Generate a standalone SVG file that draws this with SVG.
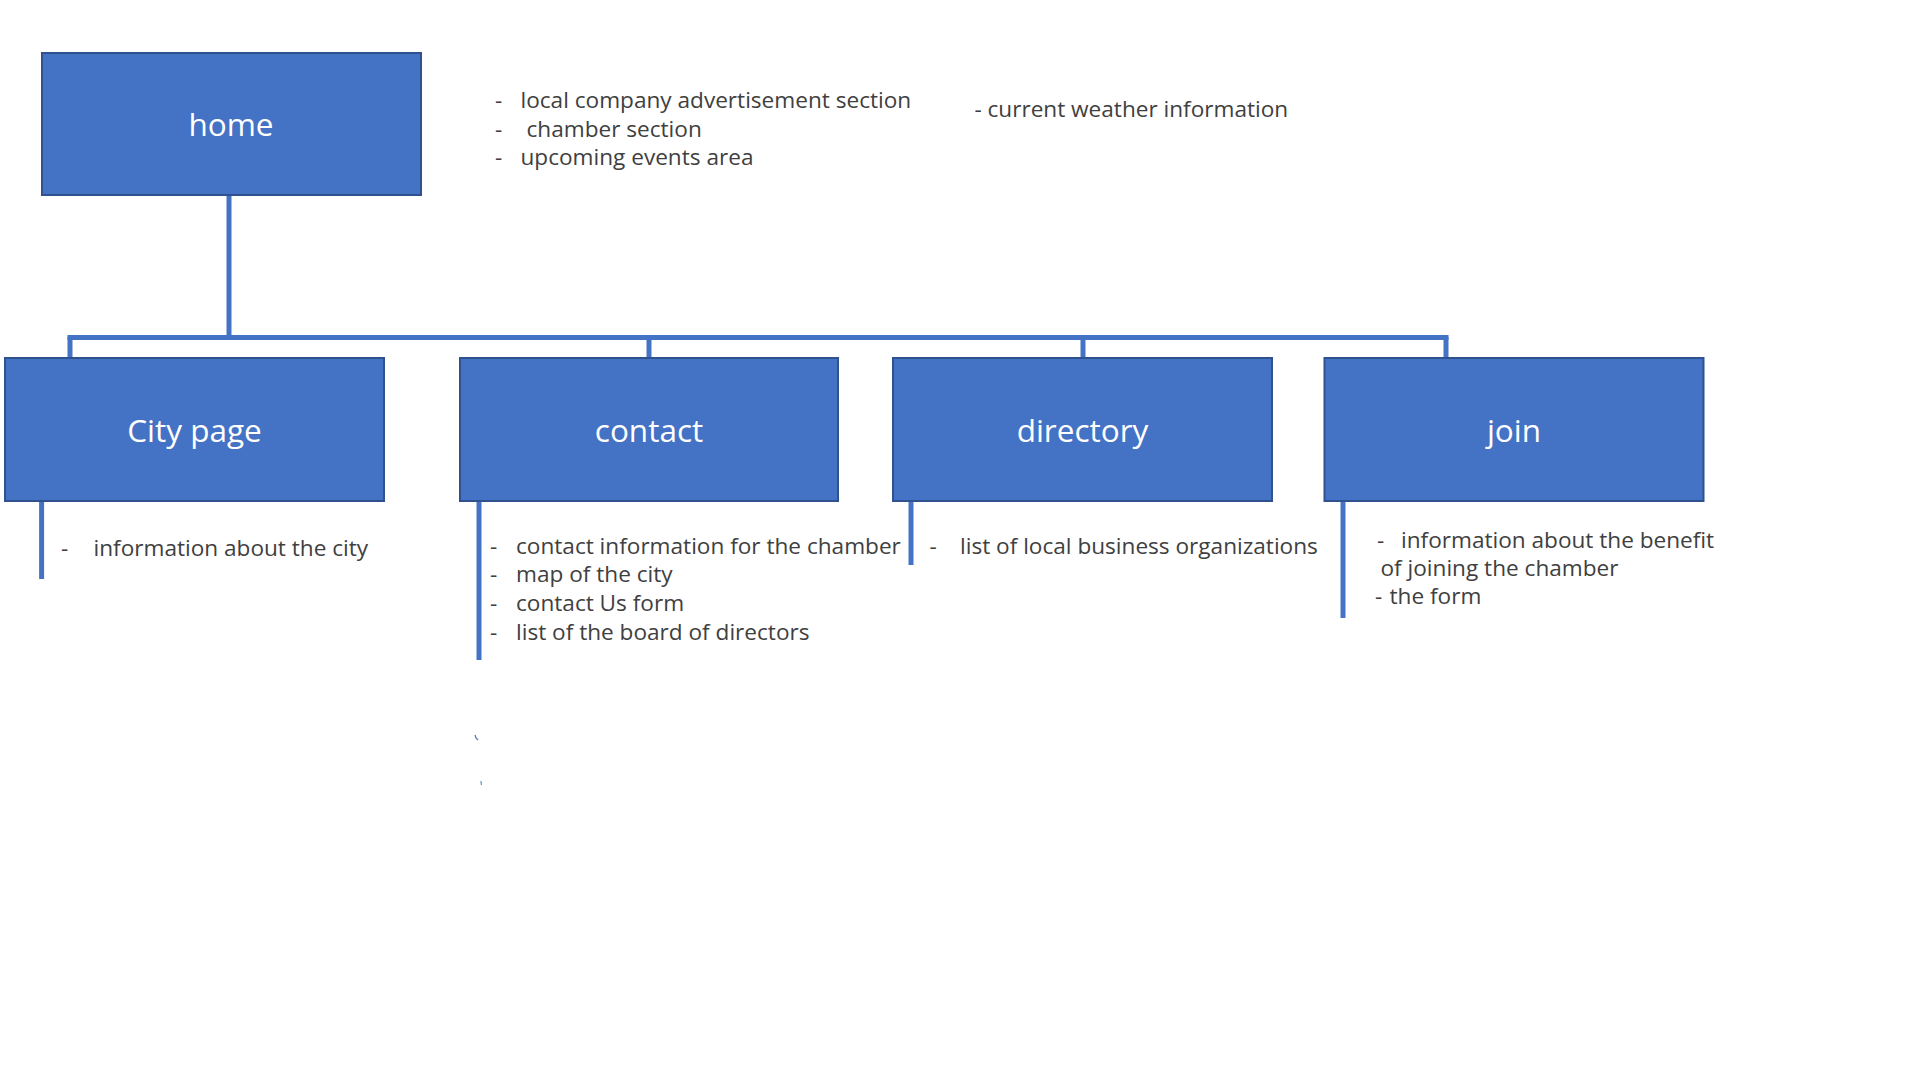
<svg xmlns="http://www.w3.org/2000/svg" width="1911" height="1079" viewBox="0 0 1911 1079">
<style>
.box{fill:#4472C4;stroke:#2F528F;stroke-width:2}
.title{font-family:"Open Sans","Noto Sans","Liberation Sans",sans-serif;font-size:31.5px;fill:#FFFFFF;text-anchor:middle}
.item{font-family:"Open Sans","Noto Sans","Liberation Sans",sans-serif;font-size:22.6px;fill:#404040}
.conn{stroke:#4472C4;stroke-width:5;fill:none}
</style>
<rect width="1911" height="1079" fill="#FFFFFF"/>
<g id="connectors">
<line class="conn" x1="229" y1="195" x2="229" y2="337"/>
<line class="conn" x1="67.5" y1="337.5" x2="1448.5" y2="337.5"/>
<line class="conn" x1="70" y1="337" x2="70" y2="358"/>
<line class="conn" x1="649" y1="337" x2="649" y2="358"/>
<line class="conn" x1="1083" y1="337" x2="1083" y2="358"/>
<line class="conn" x1="1446" y1="337" x2="1446" y2="358"/>
<line class="conn" x1="41.6" y1="501" x2="41.6" y2="579"/>
<line class="conn" x1="479" y1="501" x2="479" y2="660"/>
<line class="conn" x1="911" y1="501" x2="911" y2="565"/>
<line class="conn" x1="1343" y1="501" x2="1343" y2="618"/>
</g>
<g id="node-home">
<rect class="box" x="42" y="53" width="379" height="142"/>
<text class="title" x="231" y="136">home</text>
</g>
<g id="notes-home">
<text class="item" y="108"><tspan x="495">-</tspan><tspan x="520.5">local company advertisement section</tspan></text>
<text class="item" y="136.5"><tspan x="495">-</tspan><tspan x="526.5">chamber section</tspan></text>
<text class="item" y="165"><tspan x="495">-</tspan><tspan x="520.5">upcoming events area</tspan></text>
<text class="item" y="117"><tspan x="974.5">-</tspan><tspan x="987.5">current weather information</tspan></text>
</g>
<g id="node-city">
<rect class="box" x="5" y="358" width="379" height="143"/>
<text class="title" x="194.5" y="442">City page</text>
<text class="item" y="555.5"><tspan x="61">-</tspan><tspan x="93.5">information about the city</tspan></text>
</g>
<g id="node-contact">
<rect class="box" x="460" y="358" width="378" height="143"/>
<text class="title" x="649" y="442">contact</text>
<text class="item" y="553.5"><tspan x="490">-</tspan><tspan x="516">contact information for the chamber</tspan></text>
<text class="item" y="582"><tspan x="490">-</tspan><tspan x="516">map of the city</tspan></text>
<text class="item" y="611"><tspan x="490">-</tspan><tspan x="516">contact Us form</tspan></text>
<text class="item" y="639.5"><tspan x="490">-</tspan><tspan x="516">list of the board of directors</tspan></text>
<path d="M475 735 L476 738 L478 740" stroke="#4472C4" stroke-width="1.2" fill="none"/>
<path d="M481 781 L481.3 785" stroke="#4472C4" stroke-width="1" fill="none"/>
</g>
<g id="node-directory">
<rect class="box" x="893" y="358" width="379" height="143"/>
<text class="title" x="1082.5" y="442">directory</text>
<text class="item" y="554"><tspan x="929.5">-</tspan><tspan x="960">list of local business organizations</tspan></text>
</g>
<g id="node-join">
<rect class="box" x="1324.5" y="358" width="379" height="143"/>
<text class="title" x="1514" y="442">join</text>
<text class="item" y="547.5"><tspan x="1377">-</tspan><tspan x="1401">information about the benefit</tspan></text>
<text class="item" y="576"><tspan x="1380.5">of joining the chamber</tspan></text>
<text class="item" y="604"><tspan x="1375">-</tspan><tspan x="1389.5">the form</tspan></text>
</g>
</svg>
